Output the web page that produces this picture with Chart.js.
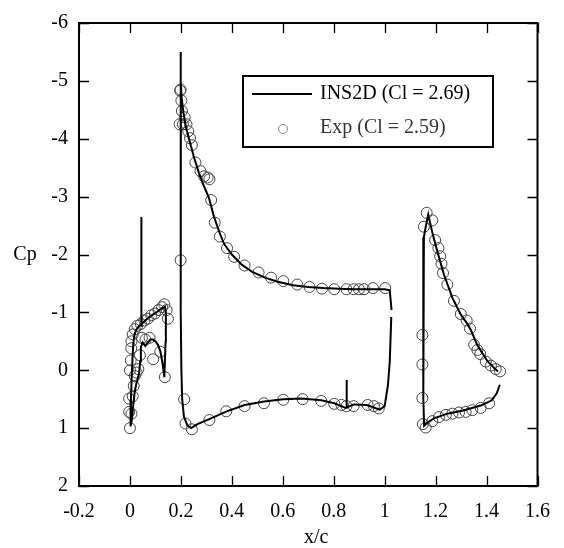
<!DOCTYPE html>
<html>
<head>
<meta charset="utf-8">
<script src="https://cdn.jsdelivr.net/npm/chart.js@4.4.0/dist/chart.umd.min.js"></script>
<style>
html,body{margin:0;padding:0;background:#fff;}
canvas{display:block;}
</style>
</head>
<body>
<canvas id="c" width="564" height="548"></canvas>
<script>
// ---- tick values ----
const xTicks = [-0.2, 0, 0.2, 0.4, 0.6, 0.8, 1, 1.2, 1.4, 1.6];
const yTicks = [-6, -5, -4, -3, -2, -1, 0, 1, 2];

// ---- INS2D computed curves ----
// slat (closed loop: TE line, upper surface to LE, lower surface back to TE)
const slatX  = [0.135, 0.140, 0.141, 0.137, 0.125, 0.110, 0.090, 0.070, 0.055, 0.045, 0.035, 0.025, 0.018, 0.013, 0.010, 0.007, 0.004, 0.002, 0.003,
                0.008, 0.013, 0.018, 0.024, 0.030, 0.036, 0.040, 0.043, 0.050, 0.060, 0.070, 0.080, 0.090, 0.100, 0.110, 0.120, 0.128, 0.135];
const slatCp = [0.12, -0.50, -1.00, -1.10, -1.07, -1.02, -0.96, -0.90, -0.84, -0.80, -0.76, -0.70, -0.62, -0.45, -0.20, 0.10, 0.50, 0.80, 0.97,
                0.85, 0.60, 0.40, 0.25, 0.15, 0.05, -0.15, -0.40, -0.48, -0.42, -0.48, -0.53, -0.53, -0.50, -0.44, -0.32, -0.12, 0.12];
// slat spike
const slatSpikeX  = [0.045, 0.045];
const slatSpikeCp = [-2.65, -0.75];

// main element: upper TE -> LE peak -> lower surface -> lower TE
const mainX  = [1.027, 1.020, 1.000, 0.940, 0.880, 0.820, 0.760, 0.700, 0.640, 0.580, 0.530, 0.480, 0.440, 0.400, 0.370, 0.354, 0.330, 0.310, 0.284, 0.270, 0.250, 0.235, 0.220, 0.210, 0.203, 0.200, 0.199,
                0.199, 0.200, 0.202, 0.205, 0.212, 0.225, 0.240, 0.265, 0.309, 0.380, 0.450, 0.527, 0.601, 0.674, 0.751, 0.802, 0.847, 0.879, 0.930, 0.981, 1.000, 1.013, 1.020, 1.026];
const mainCp = [-1.04, -1.38, -1.40, -1.40, -1.40, -1.41, -1.42, -1.44, -1.47, -1.53, -1.60, -1.70, -1.82, -2.00, -2.18, -2.35, -2.65, -2.98, -3.25, -3.42, -3.70, -3.95, -4.20, -4.45, -4.70, -4.95, -5.50,
                -3.00, -1.00, 0.00, 0.50, 0.80, 0.95, 1.00, 0.93, 0.85, 0.71, 0.60, 0.54, 0.50, 0.49, 0.52, 0.57, 0.65, 0.59, 0.60, 0.68, 0.62, 0.25, -0.15, -0.92];
// main element small spike
const mainSpikeX  = [0.851, 0.851];
const mainSpikeCp = [0.17, 0.66];

// flap: upper TE -> peak -> LE vertical -> lower TE
const flapX  = [1.445, 1.430, 1.403, 1.364, 1.338, 1.322, 1.299, 1.266, 1.233, 1.207, 1.187, 1.171, 1.160, 1.154, 1.152, 1.151, 1.152, 1.155,
                1.170, 1.194, 1.246, 1.312, 1.377, 1.420, 1.440, 1.452];
const flapCp = [0.02, -0.04, -0.16, -0.43, -0.70, -0.82, -0.96, -1.25, -1.65, -2.05, -2.38, -2.69, -2.45, -2.30, -1.50, -0.50, 0.50, 0.96,
                0.90, 0.83, 0.75, 0.69, 0.61, 0.52, 0.40, 0.25];

// ---- Experiment ----
const expX = [
  // main upper
  0.199, 0.197, 0.202, 0.204, 0.195, 0.208, 0.215, 0.222, 0.229, 0.236, 0.243, 0.257, 0.277, 0.291, 0.305, 0.312, 0.319, 0.333, 0.353, 0.381, 0.409, 0.450, 0.505, 0.554, 0.602, 0.657, 0.705, 0.754, 0.802, 0.850, 0.878, 0.899, 0.919, 0.954, 1.002,
  // main lower
  0.199, 0.213, 0.218, 0.243, 0.312, 0.378, 0.450, 0.526, 0.602, 0.678, 0.751, 0.802, 0.830, 0.850, 0.878, 0.933, 0.958, 0.977,
  // flap
  1.165, 1.154, 1.187, 1.198, 1.211, 1.218, 1.223, 1.229, 1.246, 1.272, 1.299, 1.322, 1.335, 1.351, 1.364, 1.375, 1.397, 1.417, 1.436, 1.453,
  1.148, 1.148, 1.148, 1.150, 1.161,
  1.187, 1.213, 1.240, 1.266, 1.292, 1.318, 1.344, 1.377, 1.410,
  // slat
  0.000, -0.003, 0.000, 0.003, 0.005, 0.006, 0.011, 0.019, 0.029, 0.043, 0.057, 0.070, 0.084, 0.098, 0.112, 0.126, 0.135, 0.144, 0.149,
  -0.003, 0.006, 0.011, 0.015, 0.019, 0.026, 0.033, 0.039, 0.047, 0.061, 0.077, 0.091, 0.119, 0.137
];
const expCp = [
  -4.85, -4.83, -4.66, -4.48, -4.25, -4.25, -4.37, -4.25, -4.13, -4.01, -3.89, -3.59, -3.44, -3.35, -3.33, -3.30, -2.94, -2.55, -2.31, -2.11, -1.96, -1.81, -1.69, -1.60, -1.54, -1.48, -1.44, -1.41, -1.40, -1.40, -1.40, -1.40, -1.40, -1.42, -1.42,
  -1.90, 0.50, 0.92, 1.02, 0.86, 0.71, 0.62, 0.57, 0.51, 0.50, 0.53, 0.58, 0.60, 0.62, 0.62, 0.60, 0.62, 0.66,
  -2.72, -2.48, -2.59, -2.25, -2.11, -1.97, -1.84, -1.68, -1.48, -1.20, -0.97, -0.86, -0.72, -0.44, -0.35, -0.28, -0.15, -0.08, -0.02, 0.02,
  -0.61, -0.10, 0.48, 0.93, 0.99,
  0.88, 0.81, 0.77, 0.75, 0.73, 0.72, 0.69, 0.65, 0.57,
  1.00, 0.49, 0.00, -0.17, -0.38, -0.50, -0.62, -0.71, -0.77, -0.80, -0.86, -0.89, -0.95, -0.98, -1.04, -1.09, -1.14, -1.04, -0.89,
  0.72, 0.75, 0.45, 0.27, 0.10, 0.04, -0.02, -0.26, -0.56, -0.53, -0.56, -0.19, -0.32, 0.12
];

const legendLine = 'INS2D (Cl = 2.69)';
const legendExp = 'Exp (Cl = 2.59)';
const xTitle = 'x/c';
const yTitle = 'Cp';

const FONT = '"Liberation Serif", "Times New Roman", serif';

function pts(xs, ys) { return xs.map((x, i) => ({ x: x, y: ys[i] })); }

function lineDs(xs, ys) {
  return {
    type: 'scatter', data: pts(xs, ys), showLine: true,
    borderColor: '#000', borderWidth: 2, pointRadius: 0, tension: 0, fill: false, order: 1
  };
}

const framePlugin = {
  id: 'framePlugin',
  afterDraw(chart) {
    const ctx = chart.ctx;
    const a = chart.chartArea;
    const xs = chart.scales.x, ys = chart.scales.y;
    ctx.save();
    ctx.strokeStyle = '#000';
    // inward ticks on four sides
    ctx.lineWidth = 1.3;
    const tl = 10;
    xTicks.forEach(v => {
      const px = Math.round(xs.getPixelForValue(v)) + 0.5;
      ctx.beginPath();
      ctx.moveTo(px, a.bottom); ctx.lineTo(px, a.bottom - tl);
      ctx.moveTo(px, a.top); ctx.lineTo(px, a.top + tl);
      ctx.stroke();
    });
    yTicks.forEach(v => {
      const py = Math.round(ys.getPixelForValue(v)) + 0.5;
      ctx.beginPath();
      ctx.moveTo(a.left, py); ctx.lineTo(a.left + tl, py);
      ctx.moveTo(a.right, py); ctx.lineTo(a.right - tl, py);
      ctx.stroke();
    });
    // frame
    ctx.lineWidth = 2;
    ctx.strokeRect(a.left, a.top, a.right - a.left, a.bottom - a.top);

    // axis titles
    ctx.fillStyle = '#000';
    ctx.font = '20px ' + FONT;
    ctx.textAlign = 'center';
    ctx.textBaseline = 'middle';
    ctx.fillText(yTitle, 25, ys.getPixelForValue(-2));
    ctx.fillText(xTitle, (a.left + a.right) / 2 + 8, 538);

    // legend box
    const bx = 243, by = 76, bw = 250, bh = 71;
    ctx.fillStyle = '#fff';
    ctx.fillRect(bx, by, bw, bh);
    ctx.lineWidth = 2;
    ctx.strokeRect(bx, by, bw, bh);
    ctx.beginPath();
    ctx.lineWidth = 2;
    ctx.moveTo(252, 94); ctx.lineTo(312, 94);
    ctx.stroke();
    ctx.fillStyle = '#000';
    ctx.textAlign = 'left';
    ctx.fillText(legendLine, 320, 94);
    ctx.beginPath();
    ctx.lineWidth = 1;
    ctx.strokeStyle = '#888';
    ctx.arc(283, 129, 4.5, 0, Math.PI * 2);
    ctx.stroke();
    ctx.fillStyle = '#333';
    ctx.fillText(legendExp, 320, 128);
    ctx.restore();
  }
};

new Chart(document.getElementById('c'), {
  type: 'scatter',
  data: {
    datasets: [
      lineDs(slatX, slatCp),
      lineDs(slatSpikeX, slatSpikeCp),
      lineDs(mainX, mainCp),
      lineDs(mainSpikeX, mainSpikeCp),
      lineDs(flapX, flapCp),
      {
        type: 'scatter', data: pts(expX, expCp), showLine: false,
        pointStyle: 'circle', pointRadius: 5.5, pointBorderWidth: 1,
        pointBorderColor: '#444', pointBackgroundColor: 'rgba(0,0,0,0)', order: 2
      }
    ]
  },
  options: {
    responsive: false,
    animation: false,
    devicePixelRatio: 1,
    layout: { padding: { left: 0, right: 16, top: 15, bottom: 0 } },
    plugins: { legend: { display: false }, tooltip: { enabled: false } },
    scales: {
      x: {
        type: 'linear', min: -0.2, max: 1.6,
        afterBuildTicks(s) { s.ticks = xTicks.map(v => ({ value: v })); },
        afterFit(s) { s.height = 62; },
        grid: { display: false, drawTicks: false },
        border: { display: false },
        ticks: {
          padding: 14, color: '#000', maxRotation: 0, autoSkip: false,
          font: { family: FONT, size: 20 },
          callback: v => String(Number(v.toFixed(1)))
        }
      },
      y: {
        type: 'linear', min: -6, max: 2, reverse: true,
        afterBuildTicks(s) { s.ticks = yTicks.map(v => ({ value: v })); },
        afterFit(s) { s.width = 79; },
        grid: { display: false, drawTicks: false },
        border: { display: false },
        ticks: {
          padding: 11, color: '#000', autoSkip: false,
          font: { family: FONT, size: 20 },
          callback: v => String(v)
        }
      }
    }
  },
  plugins: [framePlugin]
});
</script>
</body>
</html>
